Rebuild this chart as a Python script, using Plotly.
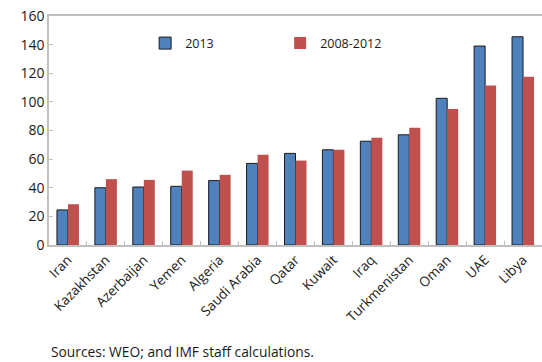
import plotly.graph_objects as go

countries = ["Iran", "Kazakhstan", "Azerbaijan", "Yemen", "Algeria", "Saudi Arabia", "Qatar",
             "Kuwait", "Iraq", "Turkmenistan", "Oman", "UAE", "Libya"]
v2013 = [24.5, 40, 40.5, 41, 45, 57, 64, 66.5, 72.5, 77, 102.5, 139, 145.5]
v0812 = [28.5, 46, 45.5, 52, 49, 63, 59, 66.5, 75, 82, 95, 111.5, 117.5]
yticks = [0, 20, 40, 60, 80, 100, 120, 140, 160]

FONT = "Open Sans"

fig = go.Figure()
fig.add_trace(go.Bar(x=countries, y=v2013, name="2013",
                     marker=dict(color="#4F81BD", line=dict(color="#1a1a1a", width=1))))
fig.add_trace(go.Bar(x=countries, y=v0812, name="2008-2012",
                     marker=dict(color="#C0504D", line=dict(width=0))))

fig.update_layout(
    width=542, height=362,
    margin=dict(l=49, r=0, t=16, b=117, autoexpand=False),
    paper_bgcolor="white", plot_bgcolor="white",
    barmode="group", bargap=0.42, bargroupgap=0,
    font=dict(family=FONT, size=12, color="#1a1a1a"),
    legend=dict(orientation="h", x=0.195, y=0.88, xanchor="left", yanchor="middle",
                entrywidth=90, font=dict(size=12.5), bgcolor="rgba(0,0,0,0)",
                itemwidth=30),
    xaxis=dict(showline=True, linecolor="#BFBFBF", linewidth=1.5, mirror=True,
               ticks="inside", tickson="boundaries", ticklen=4, tickcolor="#BFBFBF",
               tickangle=-45, tickfont=dict(size=13.5), showgrid=False, automargin=False),
    yaxis=dict(range=[0, 160], tickvals=yticks, showline=True, linecolor="#BFBFBF",
               linewidth=1.5, ticks="inside", ticklen=4, tickcolor="#BFBFBF",
               showgrid=False, zeroline=False, tickfont=dict(size=14), automargin=False),
    annotations=[dict(text="Sources: WEO; and IMF staff calculations.", xref="paper", yref="paper",
                      x=0.0, y=-0.466, xanchor="left", yanchor="middle", showarrow=False,
                      font=dict(size=13.8))],
)

fig.write_html("out.html", config={"displayModeBar": False},
               post_script="document.body.style.margin='0';document.body.style.padding='0';")
